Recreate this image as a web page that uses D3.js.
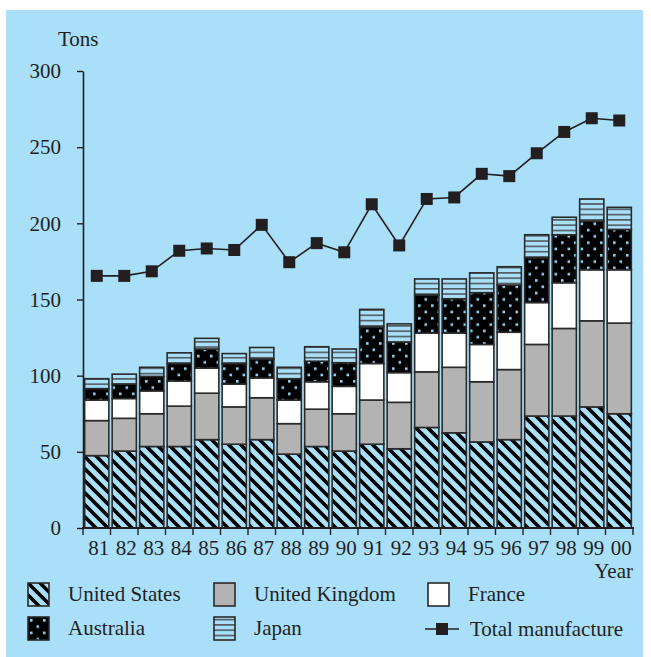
<!DOCTYPE html>
<html>
  <head>
    <meta charset="utf-8">
    <script src="https://d3js.org/d3.v7.min.js"></script>
    <style>
      body { margin: 0; background: #fff; }
      text { font-family: "Liberation Serif", "Times New Roman", serif; fill: #231f20; }
      .axis text { font-size: 21px; }
      .axis .domain, .axis line { stroke: #231f20; }
    </style>
  </head>
  <body>
    <svg width="651" height="657"></svg>
    <script>
      const years = ["81","82","83","84","85","86","87","88","89","90",
                     "91","92","93","94","95","96","97","98","99","00"];
      const unitedStates  = [47.5, 50.5, 53.5, 53.5, 58, 55, 58, 48.5, 53.5, 50.5, 55, 52, 66, 62.5, 56.5, 58, 73.5, 73.5, 79.5, 75];
      const unitedKingdom = [23, 21.5, 21.5, 26.5, 30.5, 24.5, 27.5, 20, 24.5, 24.5, 29, 30.5, 36.5, 43, 39.5, 46, 47, 57.5, 56.5, 59.5];
      const france        = [13.5, 13, 15, 16.5, 16.5, 15, 13, 15.5, 18, 18, 24, 19.5, 25.5, 22.5, 24.5, 24.5, 27.5, 30, 33.5, 35];
      const australia     = [7.5, 9.5, 9.5, 11.5, 12.5, 13.5, 12.5, 14, 13.5, 15.5, 24, 20, 25, 22.5, 34, 31, 29.5, 31.5, 32, 26.5];
      const japan         = [6.5, 6.5, 6, 7, 7, 6.5, 7.5, 7.5, 9.5, 9, 11.5, 12, 10.5, 13, 13, 12, 15, 11.5, 14.5, 14.5];
      const totalManufacture = [165.5, 165.5, 168.5, 182, 183.5, 182.5, 199, 174.5, 187, 181,
                                212.5, 185.5, 216, 217, 232.5, 231, 246, 260, 269, 267.5];
      const yTicks = [0, 50, 100, 150, 200, 250, 300];

      const series = [
        {key: "us", name: "United States", values: unitedStates, fill: "url(#hatch)"},
        {key: "uk", name: "United Kingdom", values: unitedKingdom, fill: "#b3b3b3"},
        {key: "fr", name: "France", values: france, fill: "#ffffff"},
        {key: "au", name: "Australia", values: australia, fill: "url(#dots)"},
        {key: "jp", name: "Japan", values: japan, fill: "url(#stripes)"}
      ];

      const bg = "#a9dff9";
      const ink = "#231f20";
      const svg = d3.select("svg");
      svg.append("rect").attr("x", 6).attr("y", 10).attr("width", 637).attr("height", 647).attr("fill", bg);

      // patterns
      const defs = svg.append("defs");
      const hatch = defs.append("pattern").attr("id", "hatch")
          .attr("patternUnits", "userSpaceOnUse").attr("width", 12).attr("height", 12);
      hatch.append("rect").attr("width", 12).attr("height", 12).attr("fill", bg);
      hatch.append("path").attr("d", "M-3,-3L15,15M-3,9L3,15M9,-3L15,3")
          .attr("stroke", "#000").attr("stroke-width", 3.6);

      const dots = defs.append("pattern").attr("id", "dots")
          .attr("patternUnits", "userSpaceOnUse").attr("width", 13).attr("height", 12.6);
      dots.append("rect").attr("width", 13).attr("height", 12.6).attr("fill", "#000");
      dots.append("rect").attr("x", 2).attr("y", 2).attr("width", 2.6).attr("height", 2.6).attr("fill", "#8fd4f5");
      dots.append("rect").attr("x", 8.5).attr("y", 8.3).attr("width", 2.6).attr("height", 2.6).attr("fill", "#8fd4f5");

      const stripes = defs.append("pattern").attr("id", "stripes")
          .attr("patternUnits", "userSpaceOnUse").attr("width", 10).attr("height", 5.3);
      stripes.append("rect").attr("width", 10).attr("height", 5.3).attr("fill", bg);
      stripes.append("line").attr("x1", 0).attr("x2", 10).attr("y1", 2.6).attr("y2", 2.6)
          .attr("stroke", "#3a3a3a").attr("stroke-width", 1.3);

      const x0 = 83, x1 = 633, yBottom = 528, yTop = 71;
      const x = d3.scaleBand().domain(years).range([x0, x1]).paddingInner(0.12).paddingOuter(0.06);
      const xEdge = d3.scaleLinear().domain([0, years.length]).range([x0, x1]);
      const y = d3.scaleLinear().domain([0, 300]).range([yBottom, yTop]);

      // stacked bars
      const rows = years.map((yr, i) => {
        const r = {year: yr};
        series.forEach(s => r[s.key] = s.values[i]);
        return r;
      });
      const stack = d3.stack().keys(series.map(s => s.key))(rows);
      const layers = svg.append("g").selectAll("g").data(stack).join("g")
          .attr("fill", (d, i) => series[i].fill);
      layers.selectAll("rect").data(d => d).join("rect")
          .attr("x", d => x(d.data.year))
          .attr("width", x.bandwidth())
          .attr("y", d => y(d[1]))
          .attr("height", d => y(d[0]) - y(d[1]))
          .attr("stroke", "#2a2a2a")
          .attr("stroke-width", 1.6);

      // axes
      const yAxis = d3.axisLeft(y).tickValues(yTicks).tickSize(6).tickSizeOuter(0).tickPadding(16);
      svg.append("g").attr("class", "axis").attr("transform", `translate(${x0},0)`).call(yAxis)
          .call(g => g.select(".domain").attr("stroke-width", 1.6))
          .call(g => g.selectAll(".tick line").attr("stroke-width", 1.4));

      const xAxis = d3.axisBottom(x).tickSize(0).tickPadding(12);
      svg.append("g").attr("class", "axis").attr("transform", `translate(2,${yBottom})`).call(xAxis)
          .call(g => g.select(".domain").remove())
          .call(g => g.selectAll(".tick text").attr("dy", "0.71em"));
      svg.append("line").attr("x1", x0 - 1).attr("x2", x1 + 1).attr("y1", yBottom).attr("y2", yBottom)
          .attr("stroke", ink).attr("stroke-width", 2.2);
      svg.append("g").selectAll("line").data(d3.range(years.length + 1)).join("line")
          .attr("x1", d => xEdge(d)).attr("x2", d => xEdge(d))
          .attr("y1", yBottom).attr("y2", yBottom + 7)
          .attr("stroke", ink).attr("stroke-width", 1.4);

      svg.append("text").attr("x", 58).attr("y", 46).attr("font-size", 21).text("Tons");
      svg.append("text").attr("x", 633).attr("y", 578).attr("text-anchor", "end").attr("font-size", 21).text("Year");

      // total manufacture line
      const line = d3.line().x((d, i) => x(years[i]) + x.bandwidth() / 2).y(d => y(d));
      svg.append("path").datum(totalManufacture).attr("d", line)
          .attr("fill", "none").attr("stroke", ink).attr("stroke-width", 1.6);
      svg.append("g").selectAll("rect").data(totalManufacture).join("rect")
          .attr("x", (d, i) => x(years[i]) + x.bandwidth() / 2 - 6)
          .attr("y", d => y(d) - 6)
          .attr("width", 12).attr("height", 12)
          .attr("fill", ink);

      // legend
      const legendItems = [
        {s: series[0], x: 28, y: 583}, {s: series[1], x: 214, y: 583}, {s: series[2], x: 428, y: 583},
        {s: series[3], x: 28, y: 617}, {s: series[4], x: 214, y: 617}
      ];
      const lg = svg.append("g").selectAll("g").data(legendItems).join("g")
          .attr("transform", d => `translate(${d.x},${d.y})`);
      lg.append("rect").attr("width", 21).attr("height", 23)
          .attr("fill", d => d.s.fill).attr("stroke", "#2a2a2a").attr("stroke-width", 1.6);
      lg.append("text").attr("x", 40).attr("y", 18).attr("font-size", 21).text(d => d.s.name);

      const tl = svg.append("g").attr("transform", "translate(425,629)");
      tl.append("line").attr("x1", 0).attr("x2", 34).attr("stroke", ink).attr("stroke-width", 1.6);
      tl.append("rect").attr("x", 11).attr("y", -6).attr("width", 12).attr("height", 12).attr("fill", ink);
      tl.append("text").attr("x", 45).attr("y", 7).attr("font-size", 21).text("Total manufacture");
    </script>
  </body>
</html>
